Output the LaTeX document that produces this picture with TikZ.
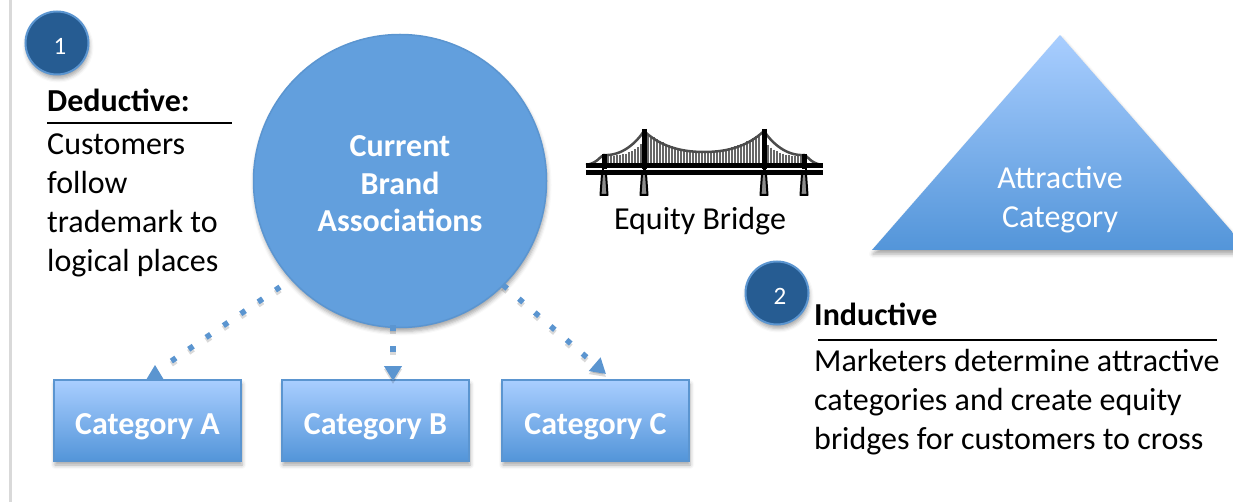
\documentclass[tikz,border=0pt]{standalone}
\usepackage{fontspec}
\setmainfont{Carlito}
\usetikzlibrary{positioning,arrows.meta,shadows.blur}
\definecolor{brandblue}{HTML}{629FDD}
\definecolor{edgeblue}{HTML}{5B95D0}
\definecolor{topblue}{HTML}{A9CEFF}
\definecolor{lowblue}{HTML}{5395D9}
\definecolor{darkblue}{HTML}{265C92}
\tikzset{
	softshadow/.style={blur shadow={shadow xshift=1pt, shadow yshift=-4pt, shadow blur radius=4pt, shadow opacity=35}},
	brandcircle/.style={circle, draw=edgeblue, line width=1.5pt, fill=brandblue, minimum size=293pt, inner sep=0pt, softshadow},
	numcircle/.style={circle, draw=edgeblue, line width=2pt, fill=darkblue, minimum size=63pt, inner sep=0pt, text=white, text height=23pt, font=\fontsize{25}{30}\selectfont, softshadow},
	catbox/.style={draw=edgeblue, line width=1.5pt, top color=topblue, bottom color=lowblue, minimum width=187pt, minimum height=81pt, inner sep=0pt, outer sep=0pt, text=white, text height=33pt, font=\fontsize{32}{39}\selectfont\bfseries, softshadow},
	plaintext/.style={align=left, inner sep=0pt, font=\fontsize{32}{39}\selectfont},
	headtext/.style={inner sep=0pt, font=\fontsize{32}{39}\selectfont\bfseries},
	dotbase/.style={line width=5.5pt, dash pattern=on 5.5pt off 15.5pt},
	dotline/.style={dotbase, edgeblue},
	dothead/.style={dotbase, edgeblue, -{Triangle[length=15pt,width=17pt]}},
	dotshade/.style={dotbase, black, opacity=0.15, transform canvas={yshift=-3pt}},
	headrule/.style={line width=2pt}
}
\begin{document}
\begin{tikzpicture}
	[
	x=1pt, y=-1pt
	]
	\useasboundingbox (0,0) rectangle (1233,502);

	%linker Rand
	\draw [line width=3pt, black!15] (10,0)--(10,502);

	%Dreieck
	\begin{scope}
		\clip (0,0) rectangle (1233,502);
		\path [top color=topblue, bottom color=lowblue, softshadow] (1060,35)--(1248,250)--(872,250)--cycle;
	\end{scope}
	\node (attractive) [plaintext, align=center, text=white] at (1060,200) {Attractive\\Category};

	%Kreis und Kategorien
	\node (brand) [brandcircle] at (400,181) {};
	\node (brandtext) [text=white, align=center, inner sep=0pt, font=\fontsize{32}{37.5}\selectfont\bfseries] at (400,184) {Current\\Brand\\Associations};
	\node (catA) [catbox] at (147.5,420.5) {Category A};
	\node (catB) [catbox, right=41pt of catA] {Category B};
	\node (catC) [catbox, right=33pt of catB] {Category C};

	%Pfeile
	\coordinate (startA) at (280,287);
	\coordinate (endA) at (170,362);
	\coordinate (tipA) at (155,365);
	\coordinate (startB) at (393,325);
	\coordinate (tipB) at (393,381);
	\coordinate (startC) at (503,285);
	\coordinate (tipC) at (606,374);
	\draw [dotshade] (startA) -- (endA);
	\draw [dotshade, -{Triangle[length=15pt,width=17pt]}] (startB) -- (tipB);
	\draw [dotshade, -{Triangle[length=15pt,width=17pt]}] (startC) -- (tipC);
	\draw [dotline] (startA) -- (endA);
	\fill [edgeblue] (tipA)--++(9,15)--++(-18,0)--cycle;
	\draw [dothead] (startB) -- (tipB);
	\draw [dothead] (startC) -- (tipC);

	%Nummern
	\node (one) [numcircle] at (57,43) {\kern6pt 1};
	\node (two) [numcircle] at (777,293) {\kern6pt 2};

	%linker Text
	\node (deductive) [headtext, anchor=west] at (47,100) {Deductive:};
	\draw [headrule] (47,123)--(232,123);
	\node (customers) [plaintext, anchor=west] at (47,205) {Customers\\follow\\trademark to\\logical places};

	%rechter Text
	\node (inductive) [headtext, anchor=west] at (814,314) {Inductive};
	\draw [headrule] (818,340)--(1217,340);
	\node (marketers) [plaintext, anchor=west] at (814,402) {Marketers determine attractive\\categories and create equity\\bridges for customers to cross};

	%Bruecke
	\foreach \x in {608,611,...,641}
	\draw [line width=1.6pt, black!60] (\x,{165-(9+15*((\x-604)/40)^3)}) -- (\x,165);
	\foreach \x in {648,651,...,761}
	\draw [line width=1.6pt, black!60] (\x,{152-21*((\x-704)/60)^2}) -- (\x,165);
	\foreach \x in {768,771,...,801}
	\draw [line width=1.6pt, black!60] (\x,{165-(9+15*((804-\x)/40)^3)}) -- (\x,165);
	\draw [line width=2.5pt, black!70] (586,165) .. controls (598,163) and (600,156) .. (604,155)
		.. controls (622,156) and (636,143) .. (644,131)
		.. controls (660,146) and (680,152) .. (704,152)
		.. controls (728,152) and (748,146) .. (764,131)
		.. controls (772,143) and (786,156) .. (804,155)
		.. controls (808,156) and (810,163) .. (822,165);
	\foreach \x/\t in {604/154,644/129,764/129,804/154}{
		\draw [fill=black!45, line width=2pt, line join=round] (\x-2,174)--(\x+2,174)--(\x+3.5,195)--(\x-3.5,195)--cycle;
		\draw [line width=5pt] (\x,\t)--(\x,172);
	}
	\draw [line width=4.5pt] (586,165.5)--(823,165.5);
	\draw [line width=4.5pt] (586,172.5)--(823,172.5);
	\draw [line width=0.8pt, white, dashed] (586,169)--(823,169);
	\node (bridge) [plaintext, anchor=base] at (700,230) {Equity Bridge};
\end{tikzpicture}
\end{document}
